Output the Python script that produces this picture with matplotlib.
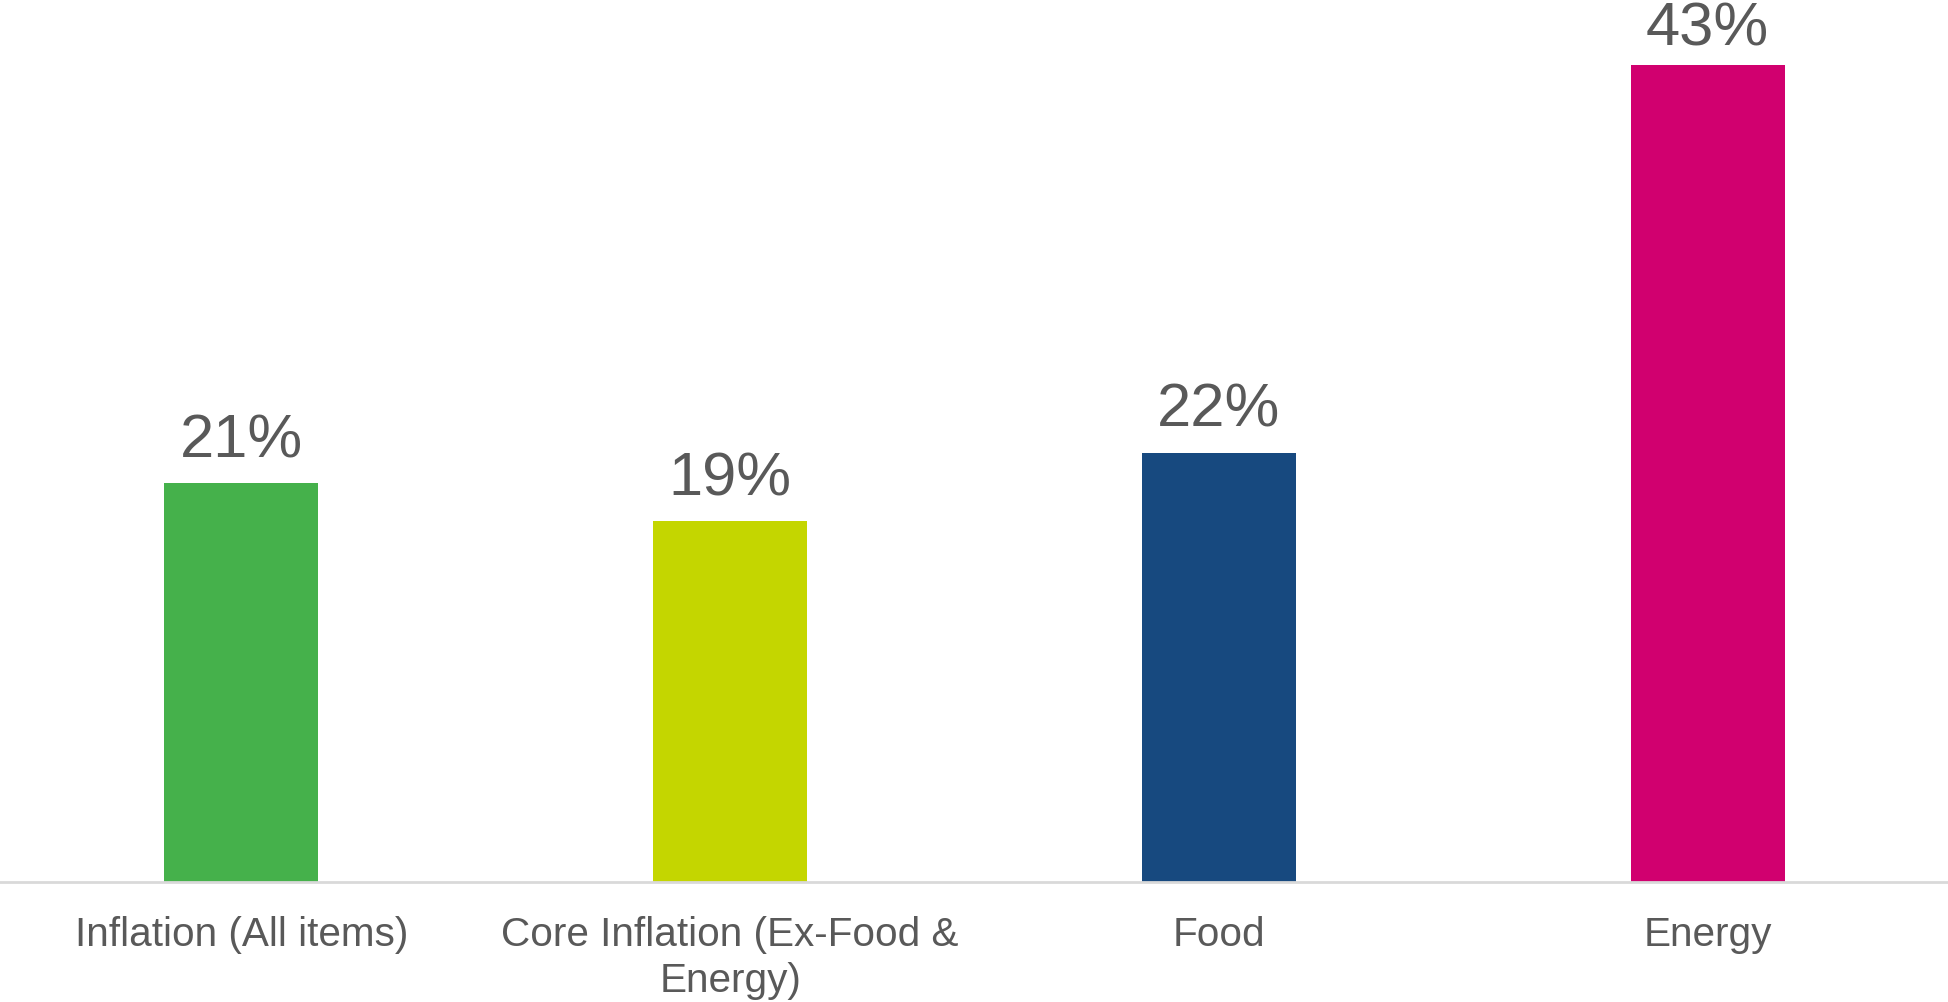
import matplotlib
matplotlib.use("Agg")
import matplotlib.pyplot as plt

# --- donnees ---
categories = ["Inflation (All items)", "Core Inflation (Ex-Food &\nEnergy)", "Food", "Energy"]
values = [21.0, 19.0, 22.6, 43.0]
value_labels = ["21%", "19%", "22%", "43%"]
colors = ["#45B14B", "#C4D600", "#17497F", "#D1006F"]

TEXT_COLOR = "#595959"
plt.rcParams["font.family"] = ["Liberation Sans", "DejaVu Sans"]

fig = plt.figure(figsize=(19.49, 10.03), dpi=100)
ax = fig.add_axes([-0.0015, 0.1196, 1.003, 0.8804])

x = range(len(categories))
ax.bar(x, values, width=0.315, color=colors, zorder=2)

y_top = 46.5
ax.set_xlim(-0.5, len(categories) - 0.5)
ax.set_ylim(0, y_top)

# hauteur d'une unite en points (pour garder le 43% dans le cadre)
pts_per_unit = 0.8804 * 10.03 * 72 / y_top
for i, (v, lab) in enumerate(zip(values, value_labels)):
    offset = min(19.4, (y_top - v) * pts_per_unit - 32.5)
    ax.annotate(lab, (i, v), xytext=(0, offset), textcoords="offset points",
                ha="center", va="baseline", fontsize=44.3, color=TEXT_COLOR)

ax.set_xticks(list(x))
ax.set_xticklabels(categories, fontsize=29.2, color=TEXT_COLOR, linespacing=1.26)
ax.tick_params(axis="x", length=0, pad=24)
ax.set_yticks([])

for side in ["top", "right", "left"]:
    ax.spines[side].set_visible(False)
ax.spines["bottom"].set_color("#D9D9D9")
ax.spines["bottom"].set_linewidth(2)

fig.savefig("out.png", dpi=100)
